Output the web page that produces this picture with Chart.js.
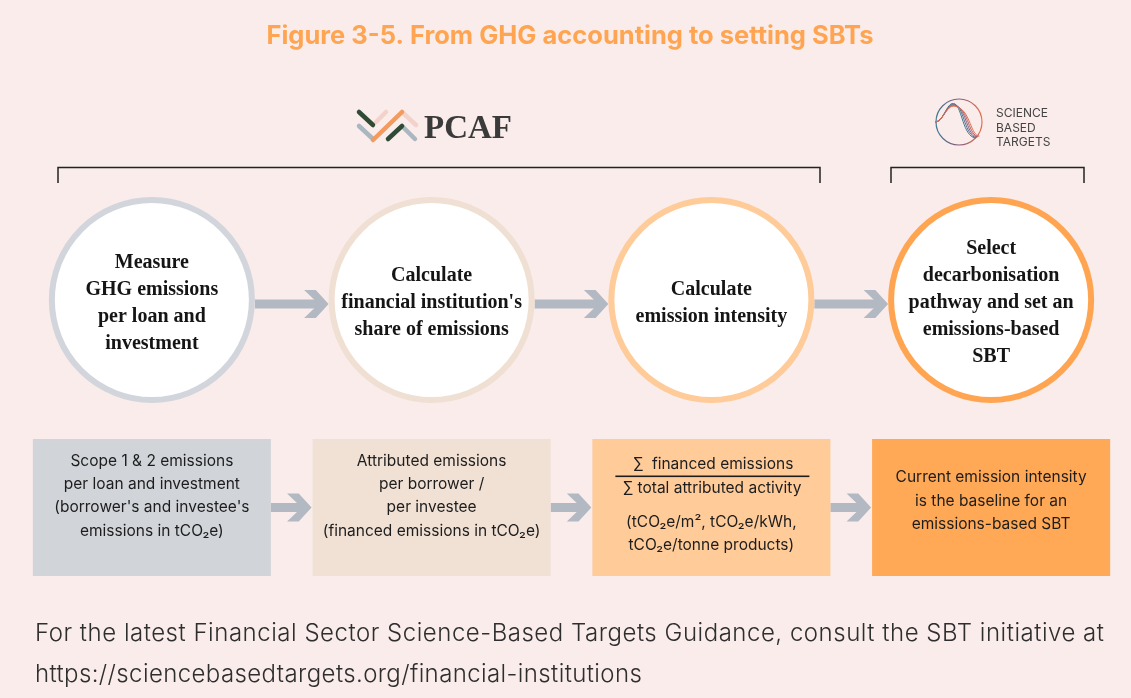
<!DOCTYPE html>
<html>
<head>
<meta charset="utf-8">
<script src="https://cdn.jsdelivr.net/npm/chart.js@4.4.1/dist/chart.umd.min.js"></script>
<style>
  html, body { margin: 0; padding: 0; background: #F9ECEA; }
  #wrap { width: 1131px; height: 698px; position: relative; }
</style>
</head>
<body>
<div id="wrap"><canvas id="c" width="1131" height="698"></canvas></div>
<script>
// ---------- DATA ----------
const titleText = 'Figure 3-5. From GHG accounting to setting SBTs';
const stepKeys = ['measure', 'attribute', 'intensity', 'target'];
const circleLabels = [
  ['Measure', 'GHG emissions', 'per loan and', 'investment'],
  ['Calculate', "financial institution's", 'share of emissions'],
  ['Calculate', 'emission intensity'],
  ['Select', 'decarbonisation', 'pathway and set an', 'emissions-based', 'SBT']
];
const boxLabels = [
  ['Scope 1 & 2 emissions', 'per loan and investment', "(borrower's and investee's", 'emissions in tCO\u2082e)'],
  ['Attributed emissions', 'per borrower /', 'per investee', '(financed emissions in tCO\u2082e)'],
  ['\u2211  financed emissions', '\u2211 total attributed activity', '(tCO\u2082e/m\u00B2, tCO\u2082e/kWh,', 'tCO\u2082e/tonne products)'],
  ['Current emission intensity', 'is the baseline for an', 'emissions-based SBT']
];
const groupLabels = ['PCAF', 'SCIENCE BASED TARGETS'];
const footerLines = [
  'For the latest Financial Sector Science-Based Targets Guidance, consult the SBT initiative at',
  'https://sciencebasedtargets.org/financial-institutions'
];

// ---------- LAYOUT / STYLE ----------
const W = 1131, H = 698;
const CIRCLE_Y = 300, CIRCLE_R = 100, CIRCLE_BW = 6;
const BOX_TOP = 439, BOX_BOTTOM = 576;
const circleColors = ['#D2D5DB', '#F0E0D3', '#FFCB99', '#FFA552'];
const boxColors = ['#D1D4D9', '#F1E1D5', '#FFCB99', '#FFA957'];
const arrowColor = '#B3B9C2';
const BG = '#F9ECEA';
const serif = "'Liberation Serif', 'DejaVu Serif', serif";
const sans = "Inter, 'Noto Sans', sans-serif";

function arrow(ctx, x0, x1, y, shaft, head) {
  ctx.save();
  ctx.fillStyle = arrowColor;
  ctx.fillRect(x0, y - shaft / 2, (x1 - 8) - x0, shaft);
  const hl = head * 0.78, th = 9;
  ctx.beginPath();
  ctx.moveTo(x1 - hl - th * 0.3, y - head / 2);
  ctx.lineTo(x1 - hl + th, y - head / 2);
  ctx.lineTo(x1, y);
  ctx.lineTo(x1 - hl + th, y + head / 2);
  ctx.lineTo(x1 - hl - th * 0.3, y + head / 2);
  ctx.lineTo(x1 - th * 1.1, y);
  ctx.closePath();
  ctx.fill();
  ctx.restore();
}

function fitText(ctx, text, x, y, targetW) {
  ctx.save();
  const w = ctx.measureText(text).width;
  const n = Math.max(1, text.length - 1);
  ctx.letterSpacing = ((targetW - w) / n).toFixed(2) + 'px';
  ctx.fillText(text, x, y);
  ctx.restore();
}

const diagramPlugin = {
  id: 'diagram',
  beforeDraw(chart) {
    const ctx = chart.ctx;
    ctx.save();
    ctx.fillStyle = BG;
    ctx.fillRect(0, 0, W, H);
    ctx.restore();
  },
  beforeDatasetsDraw(chart) {
    const ctx = chart.ctx;
    const xs = chart.scales.x;
    const bars = chart.getDatasetMeta(0).data;
    const r = CIRCLE_R + CIRCLE_BW / 2;
    for (let i = 0; i < stepKeys.length - 1; i++) {
      const a = xs.getPixelForValue(i) + r;
      const b = xs.getPixelForValue(i + 1) - r;
      arrow(ctx, a, b, CIRCLE_Y + 4, 9, 28);
      const ba = bars[i].x + bars[i].width / 2;
      const bb = bars[i + 1].x - bars[i + 1].width / 2;
      arrow(ctx, ba, bb - 1, (BOX_TOP + BOX_BOTTOM) / 2, 9, 28);
    }
  },
  afterDatasetsDraw(chart) {
    const ctx = chart.ctx;
    const xs = chart.scales.x;
    const ys = chart.scales.y;
    ctx.save();
    ctx.textAlign = 'center';
    ctx.textBaseline = 'middle';

    // title
    ctx.fillStyle = '#FFA552';
    ctx.font = "700 25.5px " + sans;
    ctx.fillText(titleText, 570, 36);

    // circle labels
    ctx.fillStyle = '#151515';
    ctx.font = "700 20px " + serif;
    circleLabels.forEach((lines, i) => {
      const cx = xs.getPixelForValue(i);
      const lh = 27;
      const cy = ys.getPixelForValue(CIRCLE_Y) + 3;
      const y0 = cy - (lines.length - 1) * lh / 2;
      lines.forEach((t, j) => ctx.fillText(t, cx, y0 + j * lh));
    });

    // box labels
    ctx.fillStyle = '#1d1d1d';
    ctx.font = "400 15.5px " + sans;
    const lh = 23.3;
    boxLabels.forEach((lines, i) => {
      const cx = xs.getPixelForValue(i);
      if (i === 2) {
        ctx.fillText(lines[0], cx + 2, 464);
        ctx.fillRect(cx - 96, 475.5, 194, 1.6);
        ctx.fillText(lines[1], cx + 1, 488);
        ctx.fillText(lines[2], cx, 522);
        ctx.fillText(lines[3], cx, 545);
        return;
      }
      const center = lines.length === 3 ? 501 : 496;
      const y0 = center - (lines.length - 1) * lh / 2;
      lines.forEach((t, j) => ctx.fillText(t, cx, y0 + j * lh));
    });

    // brackets
    ctx.strokeStyle = '#222';
    ctx.lineWidth = 1.5;
    [[58, 820], [891, 1084]].forEach(([a, b]) => {
      ctx.beginPath();
      ctx.moveTo(a, 183); ctx.lineTo(a, 167.5); ctx.lineTo(b, 167.5); ctx.lineTo(b, 183);
      ctx.stroke();
    });

    // PCAF logo
    ctx.lineCap = 'round';
    ctx.lineWidth = 4.5;
    const segs = [
      ['#F3D2CB', 386, 112, 376, 122],
      ['#F3D2CB', 403, 113, 416, 125],
      ['#ABB7C0', 359, 126, 373, 139],
      ['#ABB7C0', 403, 127, 415, 139],
      ['#2F4B36', 359, 112, 373, 125],
      ['#F39A5C', 402, 112, 373, 140],
      ['#2F4B36', 402, 126, 388, 139]
    ];
    segs.forEach(([c, x0, y0, x1, y1]) => {
      ctx.strokeStyle = c;
      ctx.beginPath(); ctx.moveTo(x0, y0); ctx.lineTo(x1, y1); ctx.stroke();
    });
    ctx.fillStyle = '#3A3A3A';
    ctx.textAlign = 'left';
    ctx.textBaseline = 'alphabetic';
    ctx.font = "700 33px " + serif;
    ctx.fillText(groupLabels[0], 424, 138);

    // SBT logo
    const lx = 959, ly = 122, lr = 23;
    const g = ctx.createLinearGradient(lx - lr, 0, lx + lr, 0);
    g.addColorStop(0, '#3C7A96');
    g.addColorStop(0.5, '#8A5E7E');
    g.addColorStop(1, '#E8704C');
    ctx.strokeStyle = g;
    ctx.lineWidth = 1.2;
    ctx.beginPath(); ctx.arc(lx, ly, lr, 0, Math.PI * 2); ctx.stroke();
    const curveCols = ['#3C7A96', '#5F6D8C', '#8A5E7E', '#B8606A', '#E0704F'];
    curveCols.forEach((c, k) => {
      ctx.strokeStyle = c;
      ctx.lineWidth = 1;
      ctx.beginPath();
      ctx.moveTo(lx - lr, ly);
      ctx.bezierCurveTo(lx - 14, ly - 2, lx - 12, ly - 22, lx - 4 + k, ly - 18 + k);
      ctx.bezierCurveTo(lx + 3 + k * 2, ly - 14 + k, lx + 4 + k * 2, ly + 14, lx + 16 + k, ly + 16 - k * 0.5);
      ctx.stroke();
    });
    ctx.fillStyle = '#444';
    ctx.font = "400 12px " + sans;
    groupLabels[1].split(' ').forEach((t, j) => ctx.fillText(t, 996, 117 + j * 14.5));

    // footer
    ctx.fillStyle = '#2e2e2e';
    ctx.font = "300 24px " + sans;
    ctx.textBaseline = 'middle';
    fitText(ctx, footerLines[0], 35, 634, 1069);
    fitText(ctx, footerLines[1], 35, 675, 607);
    ctx.restore();
  }
};

new Chart(document.getElementById('c'), {
  type: 'bar',
  data: {
    labels: stepKeys,
    datasets: [
      {
        type: 'bar',
        data: stepKeys.map(() => [BOX_TOP, BOX_BOTTOM]),
        backgroundColor: boxColors,
        borderWidth: 0,
        barPercentage: 0.851,
        categoryPercentage: 1,
        order: 2
      },
      {
        type: 'line',
        data: stepKeys.map(() => CIRCLE_Y),
        showLine: false,
        pointRadius: CIRCLE_R,
        pointHoverRadius: CIRCLE_R,
        pointBackgroundColor: '#FFFFFF',
        pointBorderColor: circleColors,
        pointBorderWidth: CIRCLE_BW,
        pointHoverBorderWidth: CIRCLE_BW,
        clip: false,
        order: 1
      }
    ]
  },
  options: {
    responsive: false,
    animation: false,
    events: [],
    layout: { autoPadding: false, padding: { left: 12, right: 0, top: 0, bottom: 0 } },
    plugins: { legend: { display: false }, tooltip: { enabled: false }, title: { display: false } },
    scales: {
      x: { type: 'category', display: false, offset: true },
      y: { type: 'linear', display: false, min: 0, max: H, reverse: true }
    }
  },
  plugins: [diagramPlugin]
});
</script>
</body>
</html>
